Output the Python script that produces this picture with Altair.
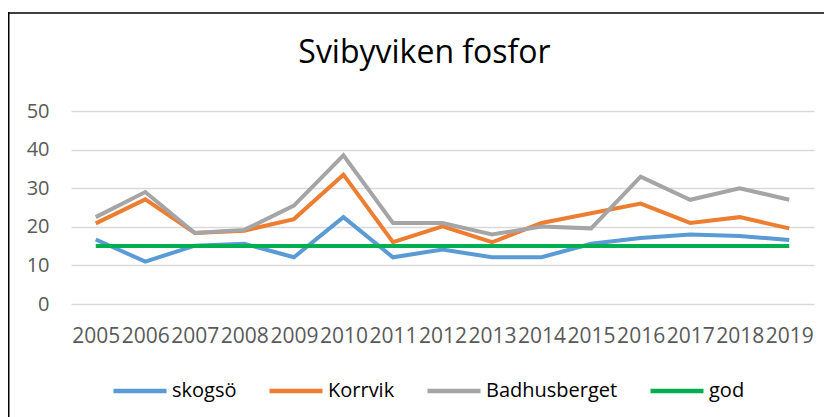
import altair as alt
import pandas as pd

years = [str(y) for y in range(2005, 2020)]
series = ["skogsö", "Korrvik", "Badhusberget", "god"]
skogso = [16.7, 11.0, 15.1, 15.6, 12.1, 22.5, 12.1, 14.1, 12.1, 12.1, 15.6, 17.1, 18.0, 17.6, 16.6]
korrvik = [20.9, 27.1, 18.4, 19.0, 22.0, 33.5, 16.0, 20.1, 16.0, 21.0, 23.5, 26.0, 21.0, 22.5, 19.6]
badhus = [22.5, 29.0, 18.4, 19.2, 25.5, 38.5, 21.0, 21.0, 18.0, 20.1, 19.6, 33.0, 27.0, 30.0, 27.0]
god = [15] * 15
colors = ["#5B9BD5", "#ED7D31", "#A5A5A5", "#00B050"]

rows = []
for name, vals in zip(series, [skogso, korrvik, badhus, god]):
    for y, v in zip(years, vals):
        rows.append({"year": y, "series": name, "value": v})
df = pd.DataFrame(rows)

FONT = "Open Sans"

lines = alt.Chart(df).mark_line(strokeWidth=4, strokeCap="butt").encode(
    x=alt.X("year:N", sort=years, title=None,
            scale=alt.Scale(paddingOuter=0.5),
            axis=alt.Axis(labelAngle=0, labelOverlap=False, ticks=False, domain=False,
                          labelPadding=21, labelFontSize=21, labelColor="#595959",
                          labelFont=FONT, grid=False)),
    y=alt.Y("value:Q", title=None,
            scale=alt.Scale(domain=[0, 50], nice=False),
            axis=alt.Axis(values=[0, 10, 20, 30, 40, 50], ticks=False, domain=False,
                          labelPadding=22, labelFontSize=20, labelColor="#595959",
                          labelFont=FONT, gridColor="#D9D9D9", gridWidth=1.5)),
    color=alt.Color("series:N", sort=series, title=None,
                    scale=alt.Scale(domain=series, range=colors),
                    legend=alt.Legend(orient="none", legendX=40, legendY=251,
                                      direction="horizontal", symbolType="stroke",
                                      symbolSize=2809, symbolStrokeWidth=4.5,
                                      labelFontSize=20, labelFont=FONT, labelColor="#000000",
                                      columnPadding=23, labelOffset=3, padding=0)),
)

frame_top = alt.Chart().mark_rule(color="#000000", strokeWidth=1.5).encode(
    x=alt.value(-70), x2=alt.value(800), y=alt.value(-98)
)
frame_left = alt.Chart().mark_rule(color="#000000", strokeWidth=2).encode(
    x=alt.value(-62.5), y=alt.value(-99), y2=alt.value(330)
)

chart = alt.layer(lines, frame_top, frame_left).properties(
    width=743, height=193,
    autosize=alt.AutoSizeParams(type="none"),
    padding={"left": 63, "top": 103, "right": 10, "bottom": 113},
    title=alt.Title("Svibyviken fosfor", fontSize=32, font=FONT, fontWeight="normal",
                    color="#000000", anchor="middle", frame="group", dx=-18,
                    baseline="alphabetic", offset=-84),
).configure_view(stroke=None)

chart.save("out.html", embed_options={"renderer": "svg", "actions": False})
